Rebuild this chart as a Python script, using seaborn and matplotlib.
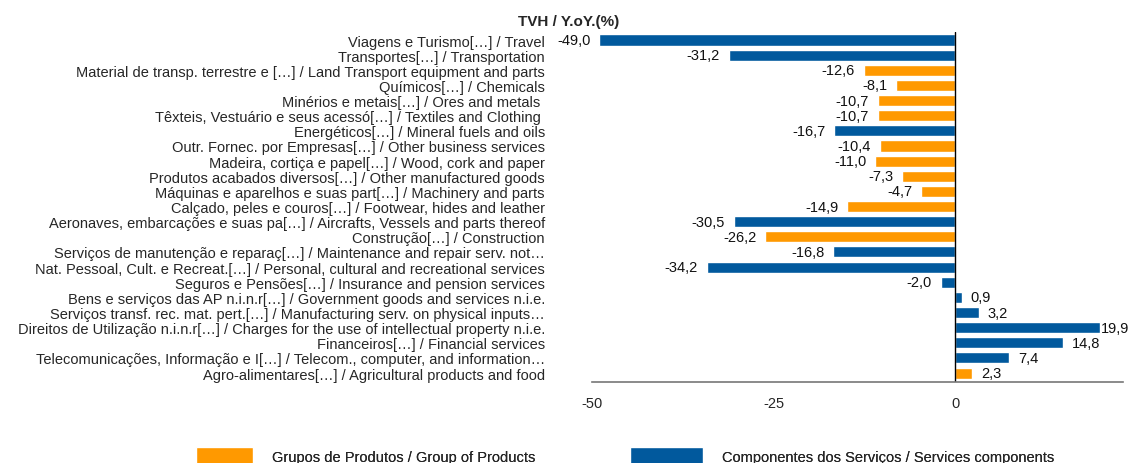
import pandas as pd
import matplotlib
matplotlib.use("Agg")
import matplotlib.pyplot as plt
import seaborn as sns

# dados (de cima para baixo)
labels = [
    "Viagens e Turismo[…] / Travel",
    "Transportes[…] / Transportation",
    "Material de transp. terrestre e […] / Land Transport equipment and parts",
    "Químicos[…] / Chemicals",
    "Minérios e metais[…] / Ores and metals ",
    "Têxteis, Vestuário e seus acessó[…] / Textiles and Clothing ",
    "Energéticos[…] / Mineral fuels and oils",
    "Outr. Fornec. por Empresas[…] / Other business services",
    "Madeira, cortiça e papel[…] / Wood, cork and paper",
    "Produtos acabados diversos[…] / Other manufactured goods",
    "Máquinas e aparelhos e suas part[…] / Machinery and parts",
    "Calçado, peles e couros[…] / Footwear, hides and leather",
    "Aeronaves, embarcações e suas pa[…] / Aircrafts, Vessels and parts thereof",
    "Construção[…] / Construction",
    "Serviços de manutenção e reparaç[…] / Maintenance and repair serv. not…",
    "Nat. Pessoal, Cult. e Recreat.[…] / Personal, cultural and recreational services",
    "Seguros e Pensões[…] / Insurance and pension services",
    "Bens e serviços das AP n.i.n.r[…] / Government goods and services n.i.e.",
    "Serviços transf. rec. mat. pert.[…] / Manufacturing serv. on physical inputs…",
    "Direitos de Utilização n.i.n.r[…] / Charges for the use of intellectual property n.i.e.",
    "Financeiros[…] / Financial services",
    "Telecomunicações, Informação e I[…] / Telecom., computer, and information…",
    "Agro-alimentares[…] / Agricultural products and food",
]
values = [-49.0, -31.2, -12.6, -8.1, -10.7, -10.7, -16.7, -10.4, -11.0, -7.3, -4.7,
          -14.9, -30.5, -26.2, -16.8, -34.2, -2.0, 0.9, 3.2, 19.9, 14.8, 7.4, 2.3]
PROD = "Grupos de Produtos / Group of Products"
SERV = "Componentes dos Serviços / Services components"
groups = [SERV, SERV, PROD, PROD, PROD, PROD, SERV, PROD, PROD, PROD, PROD,
          PROD, SERV, PROD, SERV, SERV, SERV, SERV, SERV, SERV, SERV, SERV, PROD]
xticks = [-50, -25, 0]

colors = {PROD: "#FF9900", SERV: "#01599D"}

df = pd.DataFrame({"label": labels, "value": values, "group": groups})

sns.set_theme(style="white")
plt.rcParams["font.family"] = ["Liberation Sans", "DejaVu Sans"]

fig = plt.figure(figsize=(11.31, 4.64), dpi=100)
ax = fig.add_axes([592 / 1131, 1 - 383 / 464, (1122.5 - 592) / 1131, 350 / 464])

sns.barplot(data=df, x="value", y="label", hue="group", palette=colors,
            hue_order=[PROD, SERV], dodge=False, width=0.73, orient="h",
            saturation=1, ax=ax, legend=True)

# rótulos de valor, vírgula decimal
for i, v in enumerate(values):
    txt = f"{v:.1f}".replace(".", ",")
    if v < 0:
        ax.text(v - 1.2, i, txt, ha="right", va="center", fontsize=10.5, color="#111111")
    else:
        ax.text(min(v + 1.2, 20.0), i, txt, ha="left", va="center", fontsize=10.5,
                color="#111111")

ax.set_xlim(-50, 23)
ax.set_ylim(22.59, -0.53)
ax.axvline(0, color="black", lw=1)
ax.set_xticks(xticks)
ax.set_xticklabels([str(t) for t in xticks], fontsize=10.5)
ax.set_xlabel("")
ax.set_ylabel("")
ax.tick_params(axis="y", length=0, pad=34, labelsize=10.5)
ax.tick_params(axis="x", length=4, width=1, color="#777777", direction="out", pad=6)
for s in ["top", "right", "left"]:
    ax.spines[s].set_visible(False)
ax.spines["bottom"].set_color("#777777")
ax.spines["bottom"].set_linewidth(1.2)

# legenda em baixo: duas entradas com larguras de amostra diferentes
handles, leg_labels = ax.get_legend_handles_labels()
ax.get_legend().remove()
leg_pos = [(196, 3.9), (630, 5.0)]
for h, lab, (x0, hl) in zip(handles, leg_labels, leg_pos):
    leg = fig.legend([h], [lab], loc="center left", bbox_to_anchor=(x0 / 1131, 1 - 457.5 / 464),
                     frameon=False, fontsize=10.5, handlelength=hl, handleheight=1.6,
                     handletextpad=1.3, borderpad=0, borderaxespad=0)
    fig.add_artist(leg)

fig.text(0.503, 1 - 22 / 464, "TVH / Y.oY.(%)", ha="center", va="center",
         fontsize=11, fontweight="bold")

fig.savefig("out.png", dpi=100)
